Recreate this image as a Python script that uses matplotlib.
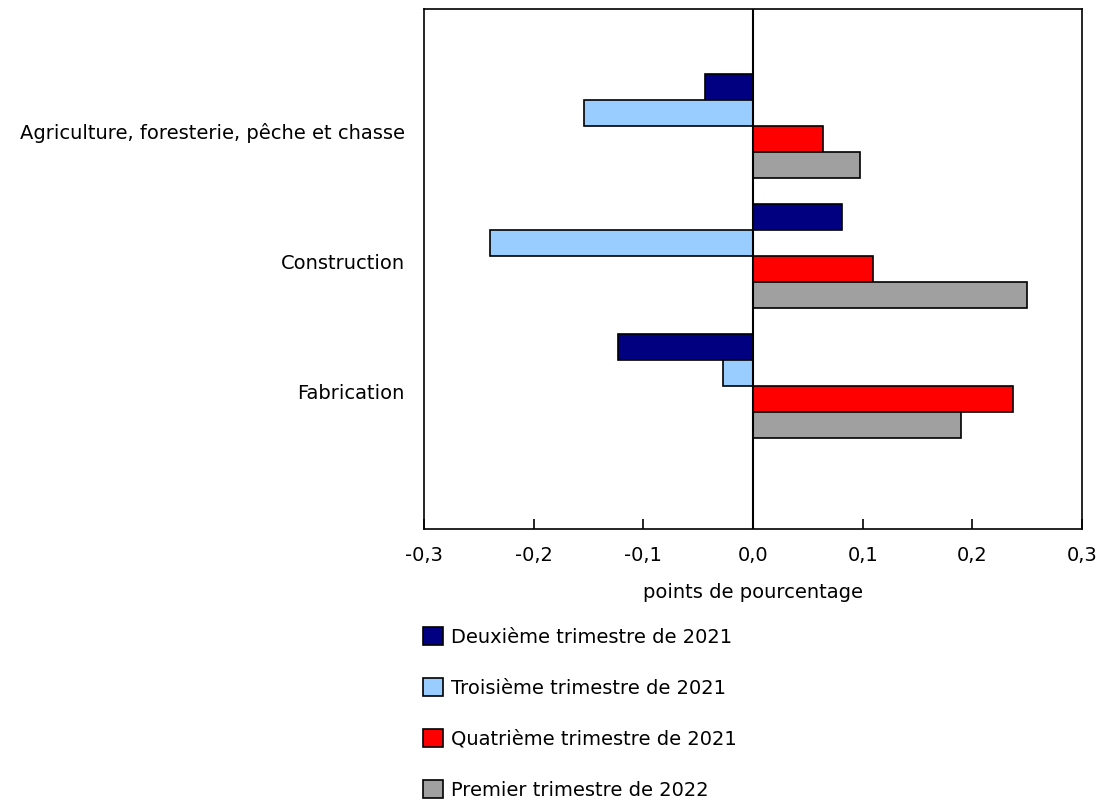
import numpy as np
import matplotlib.pyplot as plt
from matplotlib.patches import Patch

categories = ['Agriculture, foresterie, pêche et chasse', 'Construction', 'Fabrication']
series = ['Deuxième trimestre de 2021', 'Troisième trimestre de 2021',
          'Quatrième trimestre de 2021', 'Premier trimestre de 2022']
q2_2021 = [-0.044, 0.081, -0.123]
q3_2021 = [-0.154, -0.240, -0.027]
q4_2021 = [0.064, 0.109, 0.237]
q1_2022 = [0.098, 0.250, 0.190]
colors = ['#000080', '#99CCFF', '#FF0000', '#A0A0A0']
xticks = [-0.3, -0.2, -0.1, 0.0, 0.1, 0.2, 0.3]

plt.rcParams['font.family'] = 'DejaVu Sans'
fs = 14
fig = plt.figure(figsize=(11.01, 8.02), dpi=100)
ax = fig.add_axes([424/1101, 1-529/802, 658/1101, 520/802])

y = np.arange(len(categories))
h = 0.2
for j, (vals, c, name) in enumerate(zip([q2_2021, q3_2021, q4_2021, q1_2022], colors, series)):
    ax.barh(y + (j - 1.5)*h, vals, height=h, color=c, edgecolor='black', linewidth=1.2, label=name, zorder=2)

ax.axvline(0, color='black', linewidth=1.5, zorder=3)
ax.set_xlim(-0.3, 0.3)
ax.set_ylim(3.1, -0.9)
ax.set_xticks(xticks)
ax.set_xticklabels([f'{v:.1f}'.replace('.', ',') for v in xticks], fontsize=fs)
ax.set_yticks(y + 0.04)
ax.set_yticklabels(categories, fontsize=fs)
ax.tick_params(axis='y', length=0, pad=14)
ax.tick_params(axis='x', direction='in', length=7, width=1.2, pad=12)
for s in ax.spines.values():
    s.set_linewidth(1.2)
ax.set_xlabel('points de pourcentage', fontsize=fs, labelpad=13)

handles = [Patch(facecolor=c, edgecolor='black', linewidth=1.2) for c in colors]
fig.legend(handles, series, loc='upper left', bbox_to_anchor=(423/1101, 1-627/802),
           frameon=False, fontsize=fs, handlelength=1.05, handleheight=1.05,
           handletextpad=0.4, labelspacing=1.61, borderpad=0, borderaxespad=0)

fig.savefig('out.png', dpi=100)
